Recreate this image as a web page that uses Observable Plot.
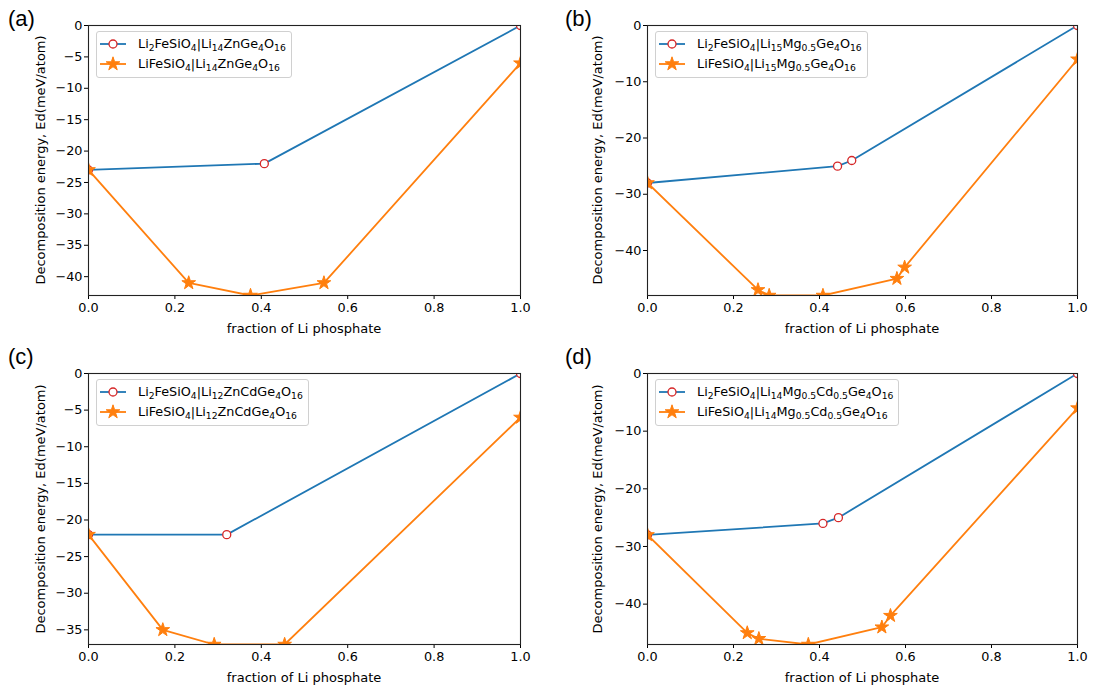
<!DOCTYPE html>
<html>
<head>
<meta charset="utf-8">
<script src="https://cdn.jsdelivr.net/npm/d3@7"></script>
<script src="https://cdn.jsdelivr.net/npm/@observablehq/plot@0.6"></script>
<style>
  html, body { margin: 0; padding: 0; background: #fff; }
  #root { position: relative; width: 1094px; height: 690px; background: #fff; overflow: hidden;
          font-family: "DejaVu Sans", sans-serif; color: #000; }
  .pnl { position: absolute; }
  .pnl svg { display: block; }
  .pnl svg text { font-size: 12.8px; }
  .letter { position: absolute; font-family: "Liberation Sans", Arial, sans-serif; font-size: 22px; line-height: 1; }
  .ylab { position: absolute; font-size: 13px; white-space: nowrap; transform: translate(-50%, -50%) rotate(-90deg); line-height: 1; }
  .xlab { position: absolute; font-size: 13px; white-space: nowrap; transform: translate(-50%, -50%); line-height: 1; }
  .lg { position: absolute; background: rgba(255,255,255,0.85); border: 1px solid #d0d0d0; border-radius: 3px;
        padding: 2px 5px 3px 0; font-size: 12.8px; }
  .row { display: flex; align-items: center; height: 20px; white-space: nowrap; }
  .row svg { flex: none; }
  .row span { line-height: 1; }
  sub { font-size: 72%; vertical-align: baseline; position: relative; top: 0.32em; line-height: 0; }
</style>
</head>
<body>
<div id="root"></div>
<script>
// ---------------- data ----------------
const xTicks = [0, 0.2, 0.4, 0.6, 0.8, 1.0];
const letters = ["(a)", "(b)", "(c)", "(d)"];
const xLabel = "fraction of Li phosphate";
const yLabel = "Decomposition energy, Ed(meV/atom)";

// panel (a)
const aBlueX = [0, 0.407, 1.0];
const aBlueY = [-23, -22, 0];
const aOrangeX = [0, 0.232, 0.375, 0.545, 1.0];
const aOrangeY = [-23, -41, -43, -41, -6];
const aYMin = -43;
const aYTicks = [0, -5, -10, -15, -20, -25, -30, -35, -40];
const aLegend = ["Li<sub>2</sub>FeSiO<sub>4</sub>|Li<sub>14</sub>ZnGe<sub>4</sub>O<sub>16</sub>",
                 "LiFeSiO<sub>4</sub>|Li<sub>14</sub>ZnGe<sub>4</sub>O<sub>16</sub>"];

// panel (b)
const bBlueX = [0, 0.442, 0.475, 1.0];
const bBlueY = [-28, -25, -24, 0];
const bOrangeX = [0, 0.257, 0.283, 0.408, 0.580, 0.598, 1.0];
const bOrangeY = [-28, -47, -48, -48, -45, -43, -6];
const bYMin = -48;
const bYTicks = [0, -10, -20, -30, -40];
const bLegend = ["Li<sub>2</sub>FeSiO<sub>4</sub>|Li<sub>15</sub>Mg<sub>0.5</sub>Ge<sub>4</sub>O<sub>16</sub>",
                 "LiFeSiO<sub>4</sub>|Li<sub>15</sub>Mg<sub>0.5</sub>Ge<sub>4</sub>O<sub>16</sub>"];

// panel (c)
const cBlueX = [0, 0.32, 1.0];
const cBlueY = [-22, -22, 0];
const cOrangeX = [0, 0.172, 0.291, 0.454, 1.0];
const cOrangeY = [-22, -35, -37, -37, -6];
const cYMin = -37;
const cYTicks = [0, -5, -10, -15, -20, -25, -30, -35];
const cLegend = ["Li<sub>2</sub>FeSiO<sub>4</sub>|Li<sub>12</sub>ZnCdGe<sub>4</sub>O<sub>16</sub>",
                 "LiFeSiO<sub>4</sub>|Li<sub>12</sub>ZnCdGe<sub>4</sub>O<sub>16</sub>"];

// panel (d)
const dBlueX = [0, 0.408, 0.444, 1.0];
const dBlueY = [-28, -26, -25, 0];
const dOrangeX = [0, 0.232, 0.259, 0.374, 0.545, 0.565, 1.0];
const dOrangeY = [-28, -45, -46, -47, -44, -42, -6];
const dYMin = -47;
const dYTicks = [0, -10, -20, -30, -40];
const dLegend = ["Li<sub>2</sub>FeSiO<sub>4</sub>|Li<sub>14</sub>Mg<sub>0.5</sub>Cd<sub>0.5</sub>Ge<sub>4</sub>O<sub>16</sub>",
                 "LiFeSiO<sub>4</sub>|Li<sub>14</sub>Mg<sub>0.5</sub>Cd<sub>0.5</sub>Ge<sub>4</sub>O<sub>16</sub>"];

// ---------------- styling / layout ----------------
const BLUE = "#1f77b4", ORANGE = "#ff7f0e", RED = "#d62728";
const panels = [
  {bx: aBlueX, by: aBlueY, ox: aOrangeX, oy: aOrangeY, ymin: aYMin, yt: aYTicks, lg: aLegend, col: 0, row: 0},
  {bx: bBlueX, by: bBlueY, ox: bOrangeX, oy: bOrangeY, ymin: bYMin, yt: bYTicks, lg: bLegend, col: 1, row: 0},
  {bx: cBlueX, by: cBlueY, ox: cOrangeX, oy: cOrangeY, ymin: cYMin, yt: cYTicks, lg: cLegend, col: 0, row: 1},
  {bx: dBlueX, by: dBlueY, ox: dOrangeX, oy: dOrangeY, ymin: dYMin, yt: dYTicks, lg: dLegend, col: 1, row: 1}
];
const colGeom = [{left: 0, width: 547, ml: 88, mr: 27, letterX: 8, ylabX: 40},
                 {left: 547, width: 547, ml: 100, mr: 17, letterX: 565, ylabX: 597}];
const rowGeom = [{top: 0, height: 345, mt: 25, mb: 50, letterY: 8, xlabY: 328},
                 {top: 345, height: 345, mt: 28, mb: 46, letterY: 346, xlabY: 677}];

const yFmt = d => d === 0 ? "0" : (d < 0 ? "\u2212" + Math.abs(d) : String(d));
const xFmt = d3.format(".1f");
const STAR_R = 4.3;
const starPath = d3.symbol(d3.symbolStar, Math.PI * STAR_R * STAR_R)();

const root = document.getElementById("root");

panels.forEach((p, i) => {
  const cg = colGeom[p.col], rg = rowGeom[p.row];
  const blue = p.bx.map((x, j) => ({x, y: p.by[j]}));
  const orange = p.ox.map((x, j) => ({x, y: p.oy[j]}));

  const chart = Plot.plot({
    width: cg.width, height: rg.height,
    marginLeft: cg.ml, marginRight: cg.mr, marginTop: rg.mt, marginBottom: rg.mb,
    style: {fontFamily: "DejaVu Sans", fontSize: "12.8px", color: "#000", background: "transparent"},
    x: {domain: [0, 1]},
    y: {domain: [p.ymin, 0]},
    marks: [
      Plot.axisX({ticks: xTicks, tickFormat: xFmt, tickSize: 4, tickPadding: 3, label: null, fontSize: 12.8}),
      Plot.axisY({ticks: p.yt, tickFormat: yFmt, tickSize: 4, tickPadding: 2, label: null, fontSize: 12.8}),
      Plot.line(blue, {x: "x", y: "y", stroke: BLUE, strokeWidth: 1.8, clip: true}),
      Plot.dot(blue, {x: "x", y: "y", symbol: "circle", r: 4, fill: "white", stroke: RED, strokeWidth: 1.3, clip: true}),
      Plot.line(orange, {x: "x", y: "y", stroke: ORANGE, strokeWidth: 1.8, clip: true}),
      Plot.dot(orange, {x: "x", y: "y", symbol: "star", r: STAR_R, fill: ORANGE, stroke: ORANGE, strokeWidth: 1, clip: true}),
      Plot.frame({stroke: "#222", strokeWidth: 1.1})
    ]
  });

  const div = document.createElement("div");
  div.className = "pnl";
  div.style.left = cg.left + "px";
  div.style.top = rg.top + "px";
  div.appendChild(chart);
  root.appendChild(div);

  const axL = cg.left + cg.ml, axR = cg.left + cg.width - cg.mr;
  const axT = rg.top + rg.mt, axB = rg.top + rg.height - rg.mb;

  const lt = document.createElement("div");
  lt.className = "letter";
  lt.style.left = cg.letterX + "px";
  lt.style.top = rg.letterY + "px";
  lt.textContent = letters[i];
  root.appendChild(lt);

  const yl = document.createElement("div");
  yl.className = "ylab";
  yl.style.left = cg.ylabX + "px";
  yl.style.top = ((axT + axB) / 2) + "px";
  yl.textContent = yLabel;
  root.appendChild(yl);

  const xl = document.createElement("div");
  xl.className = "xlab";
  xl.style.left = ((axL + axR) / 2) + "px";
  xl.style.top = rg.xlabY + "px";
  xl.textContent = xLabel;
  root.appendChild(xl);

  const lg = document.createElement("div");
  lg.className = "lg";
  lg.style.left = (axL + 8) + "px";
  lg.style.top = (axT + 6) + "px";
  const blueSample = `<svg width="41" height="20"><line x1="3" x2="29" y1="10" y2="10" stroke="${BLUE}" stroke-width="1.8"/><circle cx="16" cy="10" r="4" fill="white" stroke="${RED}" stroke-width="1.3"/></svg>`;
  const orangeSample = `<svg width="41" height="20"><line x1="3" x2="29" y1="10" y2="10" stroke="${ORANGE}" stroke-width="1.8"/><path transform="translate(16,10)" d="${starPath}" fill="${ORANGE}" stroke="${ORANGE}" stroke-width="1"/></svg>`;
  lg.innerHTML = `<div class="row">${blueSample}<span>${p.lg[0]}</span></div>` +
                 `<div class="row">${orangeSample}<span>${p.lg[1]}</span></div>`;
  root.appendChild(lg);
});
</script>
</body>
</html>
